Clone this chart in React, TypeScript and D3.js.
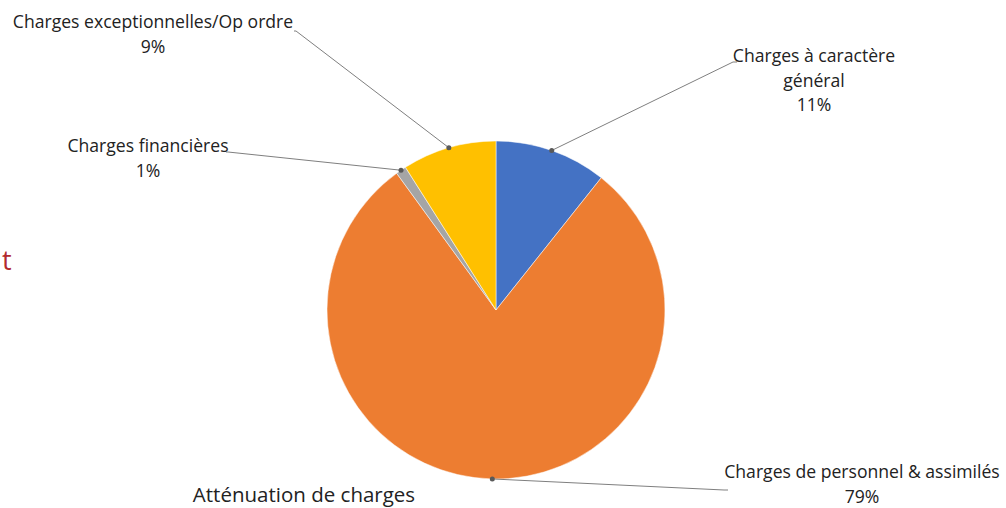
import React from "react";
import * as d3 from "d3";

const categories = [
  "Charges à caractère général",
  "Charges de personnel & assimilés",
  "Charges financières",
  "Charges exceptionnelles/Op ordre",
];
const values = [10.7, 79.3, 1.0, 9.0];
const percentLabels = ["11%", "79%", "1%", "9%"];
const colors = ["#4472C4", "#ED7D31", "#A5A5A5", "#FFC000"];
const labelLines = [
  ["Charges à caractère", "général", "11%"],
  ["Charges de personnel & assimilés", "79%"],
  ["Charges financières", "1%"],
  ["Charges exceptionnelles/Op ordre", "9%"],
];
// label anchor (center x, first baseline y) and leader elbow points
const labelPos = [
  { x: 814, y: 62, elbow: [733, 62] },
  { x: 862, y: 478, elbow: [724, 490] },
  { x: 148, y: 152, elbow: [228, 152] },
  { x: 153, y: 28, elbow: [296, 31] },
];

export default function App() {
  const W = 1006, H = 508;
  const cx = 496, cy = 310, r = 169;
  const pie = d3.pie<number>().sort(null).value((d) => d)(values);
  const arc = d3.arc<d3.PieArcDatum<number>>().innerRadius(0).outerRadius(r);
  const font = "'Open Sans', sans-serif";
  const dotAngles = pie.map((p) => (p.startAngle + p.endAngle) / 2);
  return (
    <svg width={W} height={H} style={{ position: "absolute", left: 0, top: 0, background: "#fff" }}>
      <g transform={`translate(${cx},${cy})`}>
        {pie.map((p, i) => (
          <path key={i} d={arc(p) || ""} fill={colors[i]} stroke="#fff" strokeWidth={0.5} />
        ))}
      </g>
      {pie.map((p, i) => {
        const a = dotAngles[i];
        const dx = cx + Math.sin(a) * r;
        const dy = cy - Math.cos(a) * r;
        const e = labelPos[i].elbow;
        const endX = i === 2 || i === 3 ? e[0] - 2 : e[0] + 4;
        return (
          <g key={i}>
            <polyline points={`${dx},${dy} ${e[0]},${e[1]} ${endX},${e[1]}`} fill="none" stroke="#7f7f7f" strokeWidth={1} />
            <circle cx={dx} cy={dy} r={2.5} fill="#595959" />
          </g>
        );
      })}
      {labelLines.map((lines, i) => (
        <text key={i} x={labelPos[i].x} y={labelPos[i].y} textAnchor="middle" fontFamily={font} fontSize={17.6} fill="#222">
          {lines.map((l, j) => (
            <tspan key={j} x={labelPos[i].x} dy={j === 0 ? 0 : 24.5}>{l}</tspan>
          ))}
        </text>
      ))}
      <text x={304} y={502} textAnchor="middle" fontFamily={font} fontSize={20.5} fill="#222">Atténuation de charges</text>
      <text x={2} y={270} fontFamily={font} fontSize={27} fill="#B22A2E">t</text>
    </svg>
  );
}
